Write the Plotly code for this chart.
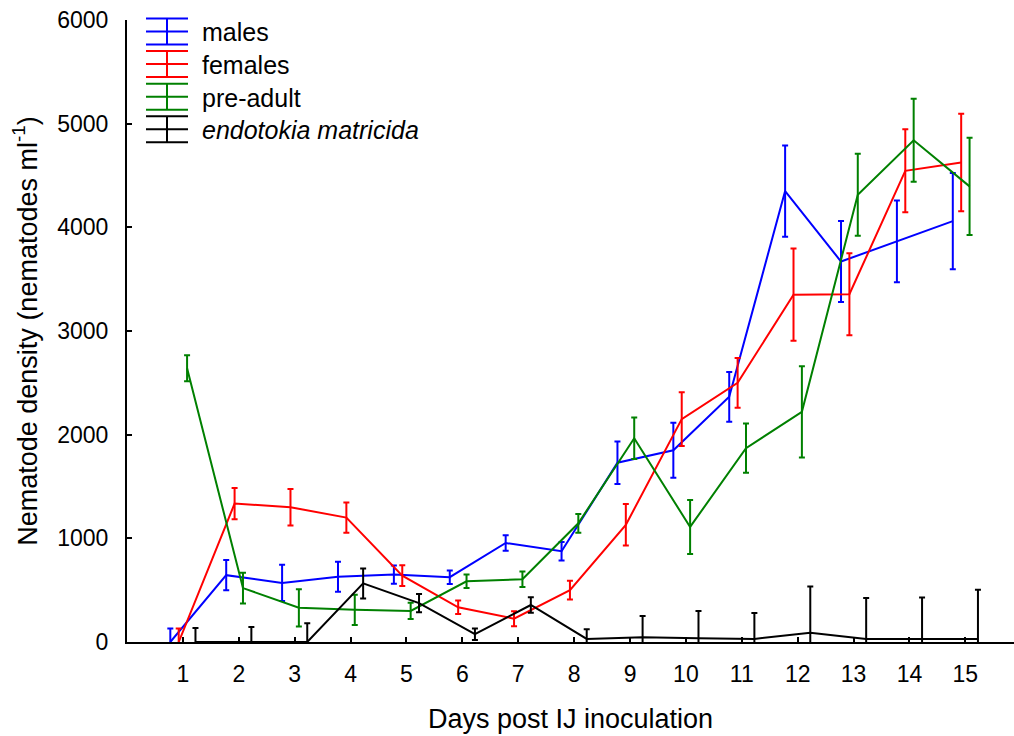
import plotly.graph_objects as go

# ---- data ----
days = list(range(1, 16))
tick_labels = [str(d) for d in days]

males = [0, 645, 570, 630, 650, 625, 955, 875, 1730, 1850, 2365, 4350, 3670, 3865, 4060]
males_err = [130, 145, 175, 145, 88, 65, 75, 90, 205, 265, 240, 440, 390, 395, 465]

females = [0, 1335, 1300, 1200, 640, 335, 225, 500, 1130, 2150, 2500, 3350, 3355, 4545, 4625]
females_err = [130, 150, 175, 145, 100, 65, 72, 90, 200, 260, 240, 445, 395, 400, 470]

preadult = [2640, 520, 330, 310, 300, 585, 605, 1145, 1965, 1110, 1870, 2220, 4315, 4840, 4395]
preadult_err = [125, 148, 180, 145, 78, 65, 75, 90, 200, 260, 238, 440, 395, 400, 470]

endotokia = [0, 0, 0, 565, 375, 75, 357, 30, 45, 35, 30, 90, 30, 30, 30]
endotokia_err = [135, 145, 180, 145, 88, 55, 75, 92, 205, 265, 250, 445, 395, 400, 475]

series_names = ["males", "females", "pre-adult", "<i>endotokia matricida</i>"]

# ---- styling ----
W, H = 1014, 736
ML, MR, MT, MB = 127, 0, 20, 94
FONT = "Liberation Sans, Arial, sans-serif"
colors = ["#0000ff", "#ff0000", "#008000", "#000000"]
offsets = [-0.225, -0.075, 0.075, 0.225]

fig = go.Figure()
all_vals = [males, females, preadult, endotokia]
all_errs = [males_err, females_err, preadult_err, endotokia_err]

for vals, errs, name, col, off in zip(all_vals, all_errs, series_names, colors, offsets):
    fig.add_trace(go.Scatter(
        x=[d + off for d in days], y=vals, name=name, mode="lines",
        line=dict(color=col, width=2),
        error_y=dict(type="data", array=errs, visible=True, color=col,
                     thickness=2, width=3),
        showlegend=False,
    ))

# ---- custom legend (error-bar glyphs) ----
pw = W - ML - MR
ph = H - MT - MB


def px_x(px):
    return (px - ML) / pw


def px_y(py):
    return (H - MB - py) / ph


shapes = []
annotations = []
leg_mid0 = 31.5
leg_step = 32.6
half = 13
for i, (name, col) in enumerate(zip(series_names, colors)):
    mid = leg_mid0 + i * leg_step
    for yy in (mid - half, mid, mid + half):
        shapes.append(dict(type="line", xref="paper", yref="paper",
                           x0=px_x(146), x1=px_x(188), y0=px_y(yy), y1=px_y(yy),
                           line=dict(color=col, width=2)))
    shapes.append(dict(type="line", xref="paper", yref="paper",
                       x0=px_x(167), x1=px_x(167), y0=px_y(mid - half), y1=px_y(mid + half),
                       line=dict(color=col, width=2)))
    annotations.append(dict(xref="paper", yref="paper", x=px_x(200), y=px_y(mid + 1),
                            xanchor="left", yanchor="middle", text=name, showarrow=False,
                            font=dict(size=25, color="#000000", family=FONT)))

fig.update_layout(
    width=W, height=H,
    margin=dict(l=ML, r=MR, t=MT, b=MB, pad=0),
    paper_bgcolor="white", plot_bgcolor="white",
    font=dict(family=FONT, color="#000000", size=24),
    shapes=shapes, annotations=annotations,
    showlegend=False,
)
fig.update_xaxes(
    range=[0, 15.87], tickvals=days, ticktext=tick_labels,
    showline=True, linecolor="#000000", linewidth=2,
    ticks="inside", ticklen=5, tickwidth=1.5, tickcolor="#000000",
    showgrid=False, zeroline=False,
    tickfont=dict(size=23, family=FONT),
    ticklabelstandoff=10,
    title=dict(text="Days post IJ inoculation", font=dict(size=27, family=FONT), standoff=24),
)
fig.update_yaxes(
    range=[0, 6000], tickvals=[0, 1000, 2000, 3000, 4000, 5000, 6000],
    showline=True, linecolor="#000000", linewidth=2,
    ticks="inside", ticklen=5, tickwidth=1.5, tickcolor="#000000",
    showgrid=False, zeroline=False,
    tickfont=dict(size=23, family=FONT),
    ticklabelstandoff=12,
    title=dict(text="Nematode density (nematodes ml<sup>-1</sup>)",
               font=dict(size=27, family=FONT), standoff=12),
)

fig.write_html("out.html")
